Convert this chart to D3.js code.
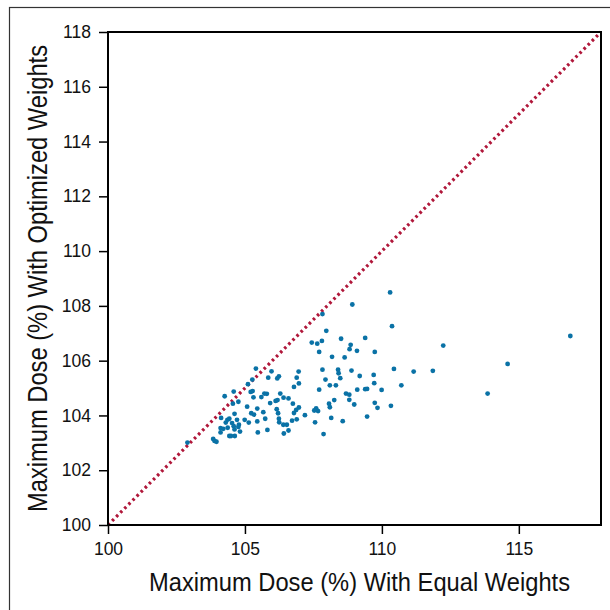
<!DOCTYPE html>
<html>
<head>
<meta charset="utf-8">
<script src="https://cdn.jsdelivr.net/npm/d3@7"></script>
<style>
html,body{margin:0;padding:0;background:#fff;}
svg{display:block;}
</style>
</head>
<body>
<svg id="chart" width="610" height="610"></svg>
<script>
// Data (x: equal weights, y: optimized weights)
const equalWeights = [110.30,108.92,107.83,110.37,107.97,108.51,109.39,107.44,107.64,107.81,108.86,112.24,116.88,107.71,108.82,109.09,109.74,108.18,108.64,114.59,105.40,105.97,106.96,107.83,108.40,108.42,108.89,110.44,111.16,111.86,105.85,106.18,106.24,106.89,107.94,108.48,109.19,109.70,105.27,106.97,109.72,105.11,110.71,106.79,108.10,108.32,107.71,109.10,109.39,109.46,109.99,104.59,105.21,105.28,105.71,105.80,106.29,113.86,108.69,108.81,104.26,104.76,105.31,105.60,106.41,106.59,108.26,108.81,106.12,106.19,104.56,105.92,106.75,108.07,109.74,108.99,110.33,105.08,105.45,106.16,106.97,107.60,108.10,109.84,106.87,107.53,107.67,104.62,105.23,105.67,106.21,106.79,105.33,107.19,109.46,104.13,108.15,104.36,104.43,104.71,104.99,105.74,106.24,106.72,106.89,105.14,105.45,106.25,107.56,108.57,104.30,104.53,104.78,104.59,106.40,106.53,104.11,104.21,104.37,104.76,104.62,105.82,106.59,105.47,104.82,104.11,106.42,107.87,104.43,104.49,104.63,103.84,103.89,103.96,102.90];
const optimizedWeights = [108.49,108.05,107.70,107.26,107.09,106.80,106.83,106.66,106.62,106.72,106.58,106.55,106.90,106.32,106.42,106.36,106.32,106.14,106.12,105.88,105.71,105.61,105.60,105.67,105.67,105.54,105.64,105.70,105.60,105.63,105.38,105.35,105.43,105.38,105.31,105.36,105.44,105.48,105.31,105.17,105.18,105.14,105.10,105.04,105.10,105.10,104.94,104.94,104.96,104.97,104.93,104.87,104.86,104.89,104.80,104.79,104.80,104.80,104.80,104.76,104.70,104.50,104.66,104.67,104.65,104.62,104.56,104.57,104.53,104.56,104.43,104.45,104.43,104.43,104.46,104.40,104.35,104.32,104.25,104.23,104.29,104.26,104.30,104.28,104.20,104.18,104.16,104.06,104.08,104.12,104.08,104.09,104.03,104.01,103.96,103.91,103.91,103.84,103.88,103.84,103.84,103.88,103.88,103.81,103.86,103.74,103.78,103.75,103.75,103.79,103.74,103.72,103.66,103.61,103.66,103.66,103.54,103.51,103.55,103.58,103.49,103.47,103.45,103.38,103.41,103.38,103.34,103.32,103.25,103.25,103.25,103.14,103.07,103.04,103.01];
const xTicks = [100, 105, 110, 115];
const yTicks = [100, 102, 104, 106, 108, 110, 112, 114, 116, 118];
const identityLine = [100, 118];
const xTitle = "Maximum Dose (%) With Equal Weights";
const yTitle = "Maximum Dose (%) With Optimized Weights";

const points = equalWeights.map((x, i) => ({x: x, y: optimizedWeights[i]}));

const svg = d3.select("#chart");
const plotLeft = 108, plotRight = 601, plotTop = 32, plotBottom = 525;

const x = d3.scaleLinear().domain([100, 118]).range([plotLeft, plotRight]);
const y = d3.scaleLinear().domain([100, 118]).range([plotBottom, plotTop]);

// outer frame
svg.append("rect")
  .attr("x", 9.5).attr("y", 7.5).attr("width", 640).attr("height", 640)
  .attr("fill", "none").attr("stroke", "#333").attr("stroke-width", 1.2);

// axes
const xAxis = svg.append("g").attr("transform", `translate(0,${plotBottom})`)
  .call(d3.axisBottom(x).tickValues(xTicks).tickSize(9).tickPadding(9).tickFormat(d3.format("d")));
const yAxis = svg.append("g").attr("transform", `translate(${plotLeft},0)`)
  .call(d3.axisLeft(y).tickValues(yTicks).tickSize(9).tickPadding(8).tickFormat(d3.format("d")));
[xAxis, yAxis].forEach(g => {
  g.select(".domain").remove();
  g.selectAll(".tick line").attr("stroke", "#000").attr("stroke-width", 1.5);
  g.selectAll(".tick text").attr("fill", "#111")
    .style("font-family", "'Liberation Sans', Arial, sans-serif").style("font-size", "17.5px");
});

// identity (dotted) line
svg.append("line")
  .attr("x1", x(identityLine[0])).attr("y1", y(identityLine[0]))
  .attr("x2", x(identityLine[1])).attr("y2", y(identityLine[1]))
  .attr("stroke", "#b0173a").attr("stroke-width", 3.2)
  .attr("stroke-dasharray", "2.6 3.2");

// points
svg.append("g").selectAll("circle").data(points).join("circle")
  .attr("cx", d => x(d.x)).attr("cy", d => y(d.y)).attr("r", 2.4)
  .attr("fill", "#0a72a6");

// plot frame
svg.append("rect")
  .attr("x", plotLeft).attr("y", plotTop).attr("width", plotRight - plotLeft).attr("height", plotBottom - plotTop)
  .attr("fill", "none").attr("stroke", "#000").attr("stroke-width", 2);

const titleFont = "'Liberation Sans', Arial, sans-serif";
svg.append("text")
  .attr("x", 149).attr("y", 591)
  .attr("textLength", 421).attr("lengthAdjust", "spacingAndGlyphs")
  .style("font-family", titleFont).style("font-size", "26px").attr("fill", "#111")
  .text(xTitle);

svg.append("text")
  .attr("transform", "translate(47,512) rotate(-90)")
  .attr("x", 0).attr("y", 0)
  .attr("textLength", 467).attr("lengthAdjust", "spacingAndGlyphs")
  .style("font-family", titleFont).style("font-size", "27px").attr("fill", "#111")
  .text(yTitle);
</script>
</body>
</html>
